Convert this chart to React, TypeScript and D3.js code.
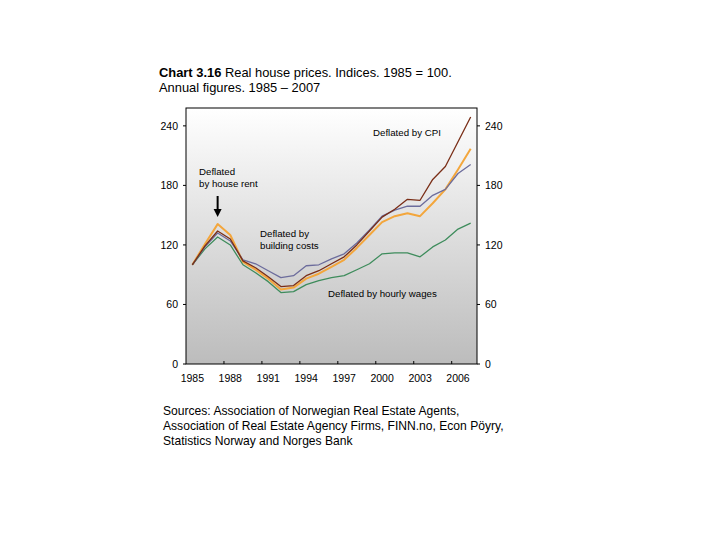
import * as d3 from "d3";

const years = [1985, 1986, 1987, 1988, 1989, 1990, 1991, 1992, 1993, 1994, 1995, 1996, 1997, 1998, 1999, 2000, 2001, 2002, 2003, 2004, 2005, 2006, 2007];

const byCpi = [100, 119, 134, 126, 104, 97, 88, 78, 79, 89, 94, 101, 108, 120, 134, 148, 156, 166, 165, 186, 199, 224, 249];
const byRent = [100, 121, 141, 130, 103, 95, 86, 75, 77, 86, 91, 98, 105, 117, 130, 143, 149, 152, 149, 162, 176, 196, 217];
const byBuilding = [100, 118, 132, 124, 105, 101, 94, 87, 89, 99, 100, 106, 111, 122, 135, 149, 155, 159, 159, 170, 176, 192, 201];
const byWages = [100, 116, 128, 120, 100, 92, 83, 72, 73, 80, 84, 87, 89, 95, 101, 111, 112, 112, 108, 118, 125, 136, 142];

const yTicks = [0, 60, 120, 180, 240];
const xTickLabels = [1985, 1988, 1991, 1994, 1997, 2000, 2003, 2006];

const series = [
  { name: "rent", values: byRent, color: "#f3a63c", width: 2 },
  { name: "wages", values: byWages, color: "#3e8c5c", width: 1.3 },
  { name: "building", values: byBuilding, color: "#6c6c9c", width: 1.3 },
  { name: "cpi", values: byCpi, color: "#7a2e17", width: 1.3 },
];

const FONT = "'Liberation Sans', Arial, Helvetica, sans-serif";

export default function App() {
  const left = 186, right = 477, top = 108, bottom = 364;
  const x = d3.scaleLinear().domain([1984.5, 2007.5]).range([left, right]);
  const y = d3.scaleLinear().domain([0, 258]).range([bottom, top]);

  const line = d3
    .line<number>()
    .x((_, i) => x(years[i]))
    .y((d) => y(d));

  // tick marks between categories, every third year
  const xTickMarks = xTickLabels.slice(1).map((yr) => yr - 0.5);
  const ax = x(1987);

  return (
    <svg
      width={720}
      height={540}
      style={{ position: "absolute", left: 0, top: 0, background: "#fff" }}
      fontFamily={FONT}
    >
      <defs>
        <linearGradient id="bg" x1="0" y1="0" x2="0" y2="1">
          <stop offset="0%" stopColor="#ffffff" />
          <stop offset="100%" stopColor="#bcbcbc" />
        </linearGradient>
      </defs>

      {/* title */}
      <text x={159} y={77} fontSize={12.9}>
        <tspan fontWeight="bold">Chart 3.16</tspan> Real house prices. Indices. 1985 = 100.
      </text>
      <text x={159} y={92} fontSize={12.9}>
        Annual figures. 1985 – 2007
      </text>

      {/* plot area */}
      <rect x={left} y={top} width={right - left} height={bottom - top} fill="url(#bg)" stroke="#000" strokeWidth={1} />

      {/* y axes */}
      {yTicks.map((t) => (
        <g key={t}>
          <line x1={left - 3} x2={left} y1={y(t)} y2={y(t)} stroke="#000" />
          <line x1={right} x2={right + 3} y1={y(t)} y2={y(t)} stroke="#000" />
          <text x={178} y={y(t)} dy="0.35em" textAnchor="end" fontSize={10.5}>
            {t}
          </text>
          <text x={485} y={y(t)} dy="0.35em" fontSize={10.5}>
            {t}
          </text>
        </g>
      ))}

      {/* x axis */}
      {xTickMarks.map((t) => (
        <line key={t} x1={x(t)} x2={x(t)} y1={bottom} y2={bottom - 3} stroke="#000" />
      ))}
      {xTickLabels.map((t) => (
        <text key={t} x={x(t)} y={382} textAnchor="middle" fontSize={10.5}>
          {t}
        </text>
      ))}

      {/* series */}
      {series.map((s) => (
        <path key={s.name} d={line(s.values) ?? ""} fill="none" stroke={s.color} strokeWidth={s.width} strokeLinejoin="round" />
      ))}

      {/* annotations */}
      <text x={373} y={136} fontSize={9.7}>Deflated by CPI</text>
      <text x={199} y={175} fontSize={9.7}>Deflated</text>
      <text x={199} y={187} fontSize={9.7}>by house rent</text>
      <line x1={ax} x2={ax} y1={196} y2={210} stroke="#000" strokeWidth={2} />
      <path d={`M${ax - 4},${209} L${ax + 4},${209} L${ax},${217} Z`} fill="#000" />
      <text x={260} y={237} fontSize={9.7}>Deflated by</text>
      <text x={260} y={249} fontSize={9.7}>building costs</text>
      <text x={328} y={297} fontSize={9.7}>Deflated by hourly wages</text>

      {/* sources */}
      <text x={163} y={415} fontSize={12.1}>Sources: Association of Norwegian Real Estate Agents,</text>
      <text x={163} y={430} fontSize={12.1}>Association of Real Estate Agency Firms, FINN.no, Econ Pöyry,</text>
      <text x={163} y={445} fontSize={12.1}>Statistics Norway and Norges Bank</text>
    </svg>
  );
}
